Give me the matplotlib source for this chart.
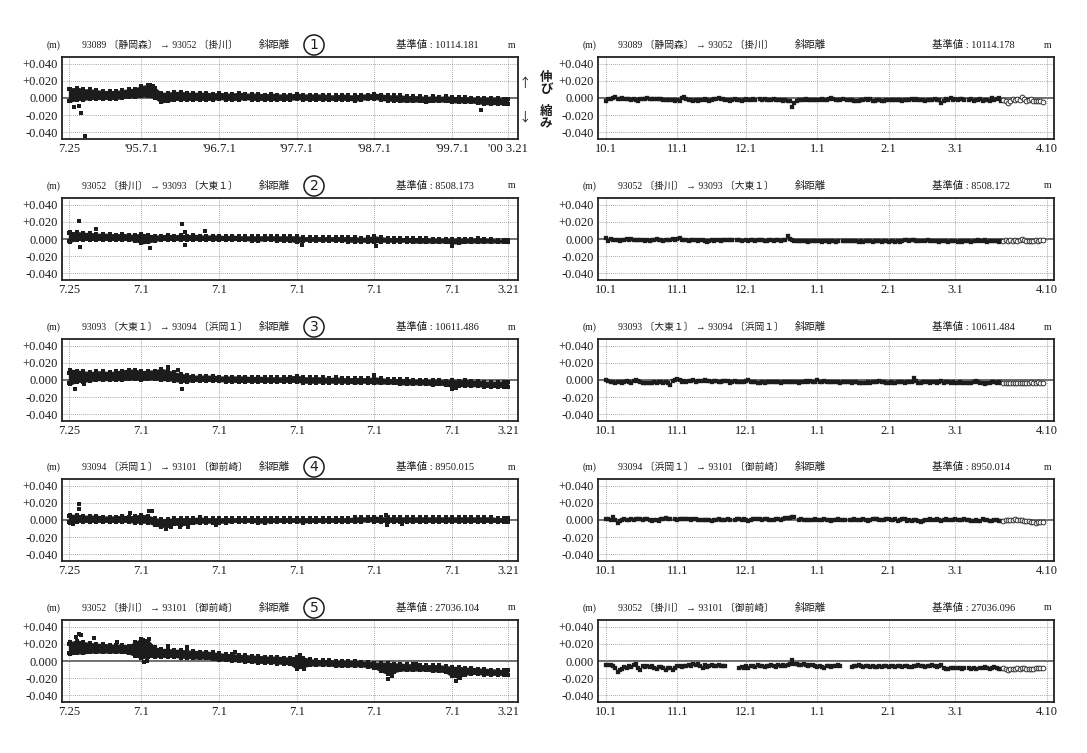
import numpy as np
import pandas as pd
import matplotlib
matplotlib.use('Agg')
import matplotlib.pyplot as plt

plt.rcParams['font.family'] = ['Liberation Serif', 'Noto Sans CJK JP', 'DejaVu Sans']

W, H = 1087, 753

# ---------------- data (mm, relative to the 基準値) ----------------
# long-term panels: monthly upper / lower edges of the dense band
# nodes: 1994-07-25, 1994-08 ... 2000-03 (month starts), 2000-03-21
L1_HI = [10,
         11, 12, 10, 10, 9,
         8, 8, 8, 9, 10, 11, 14, 15, 12, 6, 6, 7,
         7, 6, 6, 6, 6, 5, 6, 5, 5, 6, 5, 5,
         5, 4, 5, 4, 4, 4, 5, 4, 4, 4, 4, 3,
         3, 4, 3, 3, 4, 4, 5, 4, 3, 3, 3, 2,
         2, 2, 1, 2, 1, 2, 1, 1, 1, 0, 0, 0,
         0, 0, -1,
         -1]
L1_LO = [-3,
         -4, -2, -2, -1, -1,
         -1, -1, -1, 0, 1, 1, 2, 2, 0, -5, -4, -2,
         -2, -2, -2, -2, -2, -2, -1, -2, -2, -2, -1, -2,
         -2, -2, -2, -2, -2, -2, -1, -2, -2, -2, -2, -2,
         -2, -2, -2, -3, -2, -1, -1, -2, -3, -3, -4, -4,
         -4, -4, -5, -4, -4, -4, -5, -5, -5, -5, -6, -7,
         -7, -7, -7,
         -7]
L1_OUT_D = ['1994-08-18', '1994-09-10', '1994-09-18', '1994-10-08', '1995-08-10', '1995-08-25', '1999-11-14']
L1_OUT_V = [-10, -9, -18, -44, 15, 14, -14]

L2_HI = [7,
         8, 8, 7, 7, 6,
         6, 6, 5, 6, 5, 5, 6, 5, 4, 4, 5, 4,
         5, 4, 5, 4, 4, 4, 4, 3, 4, 3, 3, 3,
         3, 3, 3, 3, 3, 3, 3, 2, 2, 2, 2, 2,
         2, 2, 2, 2, 1, 2, 3, 2, 1, 1, 1, 1,
         1, 1, 1, 0, 0, 0, 0, 0, 0, 0, 1, 0,
         0, -1, -1,
         -1]
L2_LO = [-2,
         -3, -1, -1, -1, -1,
         -1, -1, -1, -1, -1, -2, -5, -4, -2, -1, -1, -1,
         -1, -1, -1, -1, -1, -1, -1, -1, -1, -1, -1, -2,
         -2, -1, -1, -2, -2, -2, -4, -2, -2, -2, -2, -2,
         -2, -2, -3, -3, -3, -3, -4, -3, -3, -3, -3, -3,
         -4, -4, -4, -4, -4, -4, -5, -5, -4, -4, -4, -4,
         -4, -4, -4,
         -4]
L2_OUT_D = ['1994-09-11', '1994-09-14', '1994-11-30', '1995-08-12', '1996-01-07', '1996-01-20',
            '1996-01-22', '1996-04-23', '1997-07-26', '1998-07-09', '1999-07-01']
L2_OUT_V = [21, -9, 12, -10, 17, 8, -7, 9, -7, -8, -8]

L3_HI = [8,
         12, 11, 10, 9, 10,
         10, 9, 10, 11, 12, 12, 10, 11, 11, 13, 11, 9,
         7, 6, 5, 5, 5, 5, 4, 4, 4, 4, 4, 3,
         4, 3, 3, 3, 3, 4, 5, 3, 3, 3, 3, 2,
         3, 2, 2, 2, 2, 2, 3, 2, 1, 1, 1, 1,
         0, 0, 0, 0, 0, -1, 0, -1, 0, -1, -1, -2,
         -2, -2, -2,
         -2]
L3_LO = [-3,
         -5, -2, -2, -1, 0,
         0, 0, 0, 0, 1, 1, 0, 1, 1, 0, 0, -1,
         -2, -2, -1, -1, -1, -1, -1, -2, -2, -2, -2, -2,
         -2, -2, -2, -2, -2, -2, -2, -3, -3, -3, -3, -3,
         -3, -3, -3, -4, -3, -3, -4, -4, -4, -4, -5, -5,
         -5, -5, -5, -6, -5, -6, -8, -7, -7, -7, -7, -8,
         -8, -8, -8,
         -8]
L3_OUT_D = ['1994-08-20', '1994-10-03', '1995-11-02', '1995-12-20', '1996-01-08', '1998-07-01',
            '1999-07-01', '1999-07-20']
L3_OUT_V = [-10, -5, 15, 12, -11, 6, -10, -9]

L4_HI = [5,
         6, 6, 5, 5, 5,
         4, 4, 4, 5, 4, 5, 6, 5, 2, 1, 1, 2,
         2, 2, 2, 3, 2, 2, 2, 2, 2, 2, 2, 2,
         2, 2, 2, 2, 2, 2, 2, 2, 2, 2, 2, 2,
         2, 2, 2, 3, 3, 3, 4, 3, 3, 3, 3, 3,
         3, 3, 3, 3, 3, 3, 3, 3, 3, 3, 3, 3,
         3, 2, 2,
         2]
L4_LO = [-2,
         -3, -2, -2, -2, -2,
         -2, -2, -2, -2, -2, -3, -3, -3, -6, -8, -7, -5,
         -6, -5, -4, -3, -3, -3, -3, -3, -2, -2, -2, -2,
         -3, -3, -2, -2, -2, -2, -2, -3, -2, -2, -2, -2,
         -2, -2, -2, -2, -2, -1, -2, -2, -2, -2, -2, -2,
         -2, -2, -2, -2, -2, -2, -2, -2, -2, -2, -2, -2,
         -2, -2, -2,
         -2]
L4_OUT_D = ['1994-08-15', '1994-09-08', '1994-09-10', '1995-05-10', '1995-08-05', '1995-08-19',
            '1995-10-23', '1995-11-17', '1995-12-28', '1996-02-07', '1996-06-15', '1998-08-27',
            '1998-08-30', '1998-11-10']
L4_OUT_V = [-5, 19, 13, 8, 10, 11, -10, -8, -8, -8, -6, 6, -6, -5]

L5_HI = [20,
         22, 24, 22, 21, 20,
         20, 19, 19, 19, 18, 22, 26, 24, 16, 14, 14, 13,
         13, 12, 12, 11, 11, 10, 9, 8, 8, 7, 7, 6,
         6, 5, 5, 5, 4, 4, 5, 4, 2, 1, 1, 1,
         0, 0, 0, 0, -1, -1, -2, -2, -2, -3, -3, -4,
         -4, -5, -5, -5, -5, -6, -7, -7, -8, -8, -9, -9,
         -10, -10, -11,
         -11]
L5_LO = [9,
         8, 9, 9, 10, 10,
         10, 10, 10, 10, 9, 6, 3, 5, 5, 5, 5, 5,
         4, 4, 3, 3, 3, 2, 1, 1, 0, 0, -1, -1,
         -2, -2, -2, -3, -3, -4, -9, -7, -5, -5, -5, -5,
         -6, -6, -6, -6, -6, -7, -8, -12, -15, -13, -11, -11,
         -11, -11, -11, -12, -12, -13, -18, -19, -16, -15, -15, -16,
         -16, -16, -16,
         -16]
L5_OUT_D = ['1994-08-25', '1994-09-10', '1994-09-20', '1994-11-20', '1995-03-10', '1995-07-10',
            '1995-07-22', '1995-08-05', '1995-07-15', '1995-07-28', '1995-11-01', '1996-02-01',
            '1996-09-15', '1997-07-15', '1997-08-05', '1998-09-05', '1998-09-20', '1999-01-15',
            '1999-07-20', '1999-08-10', '1999-12-10']
L5_OUT_V = [28, 32, 30, 27, 22, 25, 24, 26, -1, 0, 18, 16, 11, 7, -9, -21, -18, -4, -23, -20, -13]

# recent panels: daily values from 1999-10-01 (final), then quick solutions from 2000-03-22
nan = np.nan
R1_DAY = [-4, -1, -1, 0, 1, -1, -1, 0, -1, -1, -1, -2, -1, -2, -3, -1, -1, -1, 0, -1, -1, -1, -1, -1, -1, -2, -2, -2, -2, -2, -3,
          -2, -3, 0, 1, -1, -2, -2, -3, -2, -3, -2, -2, -1, -2, -3, -2, -1, -1, 0, -1, -1, -2, -2, -3, -2, -1, -2, -2, -3, -2,
          -1, -2, -2, -1, -2, nan, -1, -2, -1, -2, -2, -2, -1, -2, -2, -2, -3, -2, -3, -4, -11, -6, -3, -2, -2, -2, -1, -2, -2, -2, -2,
          -2, -2, -1, -2, -2, -1, 0, -1, -2, -2, -2, -1, nan, -2, -2, -2, -3, -3, -4, -2, -2, -1, -2, -1, -3, -3, -2, -2, -4, -3, -2,
          -2, -2, -2, -2, -2, -2, -3, -2, -2, -2, -1, -2, -1, -2, -2, -2, -3, -2, -2, -2, -1, -2, -2, -6, -3, -1, -2, 0, -2,
          -1, -2, -1, -1, -2, nan, -2, -1, -3, -2, -2, -1, -3, -2, -2, -3, 0, -2, -1, 0, -3]
R1_QUICK = [-2, -4, -6, -3, -1, -2, -1, -2, 1, -1, -3, -2, -1, -3, -4, -3, -4, -5]

R2_DAY = [1, -2, 0, -1, -1, -1, -2, -1, -1, 0, -1, 0, -1, -1, -1, -1, -1, -2, -1, -2, -1, -1, 0, -1, -1, -2, -1, -1, -1, 0, -1,
          0, 1, -1, -1, -1, -2, -1, -1, -1, -2, -1, -1, -2, -4, -2, -1, -2, -1, -1, -2, -1, -1, -1, -1, -1, nan, -1, -1, -2, nan,
          -1, -2, -1, -1, -2, -1, -1, -1, -2, -2, -1, -1, -2, -1, -1, -2, -1, -1, 3, 0, -1, -2, -2, -2, -2, -2, -2, -3, -2, -2, -2,
          -2, -2, -3, -2, -2, -3, -2, -2, -3, -2, nan, -2, -2, -2, -2, -2, -2, -2, -3, -2, -3, -2, -2, -2, -3, -2, -2, -2, -3, -2, -2,
          -3, -2, -2, -3, -2, -4, -2, -1, -1, -2, -1, -1, -2, -2, -2, nan, -2, -1, -2, -2, -2, -2, -3, -2, -2, -2, -3, -2, -2,
          -2, -3, -2, -3, -2, -2, -2, -3, -2, -2, -1, -2, -2, -1, -3, -2, -2, -2, -2, -3, -2]
R2_QUICK = [-2, -1, -2, -1, -2, -1, -2, -1, 0, -1, -2, -2, -2, -2, -1, -2, -1, -1]

R3_DAY = [0, -1, -2, -2, -3, -2, -2, -3, -2, -1, -2, -3, -1, 0, -1, -2, -3, -3, -4, -4, -4, -2, -3, -2, -2, -3, -2, -3, -6, -1, 0,
          1, 0, -2, -1, -2, -1, -1, 0, -2, -1, -1, -1, 0, -1, -1, -2, -1, -1, -2, -2, -1, -1, -1, -3, -2, -1, -2, -2, -2, -2,
          -1, 0, -2, -2, -2, -3, -3, -2, -3, -2, -2, -2, -2, -2, -2, -3, -2, -2, -2, -2, -2, -2, -2, -3, -2, -2, -1, -2, -1, -2, -2,
          0, -2, -2, -1, -2, -2, -2, -2, -2, -2, -3, -2, -2, -2, -2, -3, -2, -2, -3, -3, -3, -4, -2, -3, -2, -2, -2, -1, -2, -2, -3,
          -3, -2, -3, -3, -2, -2, -2, -3, -2, -2, -2, 2, -1, -3, -3, -2, -2, -2, -3, -2, -2, -3, -2, -1, -3, -2, -2, -3, -2,
          -3, -3, -2, -3, -3, -4, -4, -3, -2, -1, -2, -3, -4, -5, -3, -3, -2, -2, -3, -2, -3]
R3_QUICK = [-3, -4, -4, -3, -3, -4, -3, -3, -3, -4, -3, -3, -2, -3, -3, -2, -3, -3]

R4_DAY = [1, 1, 0, 3, 0, -3, -1, 0, 1, 0, 0, 1, 0, 1, 1, 1, 0, 1, 1, 0, -1, 0, 0, -1, 1, 1, 2, 1, 1, nan, 1,
          0, 1, 1, 1, 1, 1, 0, 1, 1, 0, 0, 0, 0, 0, 0, -1, 0, 0, 1, 0, 0, 0, 1, 0, nan, 0, 1, 1, 0, 1,
          0, -1, 0, 1, 1, 1, 1, 0, 1, 1, 0, 0, 0, 1, 1, 0, 1, 2, 2, 2, 3, 3, nan, 0, 1, 0, 0, 0, 0, 0, 1,
          0, 0, 0, 1, 0, 0, -1, 0, 0, 1, 0, 0, 0, nan, 0, 0, 1, 0, 0, 0, 1, 0, -1, 0, 1, 1, 1, 0, 0, 0, 1,
          1, 0, 0, 1, -1, 0, 1, 1, -1, 0, -1, 0, 0, -1, -2, -1, 0, 0, 1, 0, 0, 1, 0, -1, 0, 1, 0, 0, 0,
          1, 0, 0, 0, 1, 0, 0, -1, -1, 0, -1, -1, 1, 0, 0, -1, -1, 0, 0, -1, -1]
R4_QUICK = [-1, 0, 0, 0, 0, 1, 0, 0, 0, -1, -1, -1, -2, -2, -3, -2, -2, -2]

R5_DAY = [-5, -5, -5, -6, -8, -13, -11, -9, -7, -8, -6, -7, -5, -3, -8, -11, -6, -7, -6, -7, -6, -8, -9, -7, -7, -8, -10, -8, -8, -11, -8,
          -6, -6, -7, -6, -6, -5, -6, -4, -5, -4, -6, -8, -5, -7, -6, -5, -6, -6, -5, -6, -6, -6, nan, nan, nan, nan, nan, -8, -7, -8,
          -6, -8, -6, -6, -7, -5, -6, -6, -7, -6, -6, -5, -6, -7, -5, -6, -5, -6, -5, -3, 1, -3, -4, -5, -5, -4, -5, -6, -5, -5, -6,
          -7, -6, -7, -8, -6, -6, -7, -6, -6, -5, -6, nan, nan, nan, nan, -7, -6, -6, -5, -6, -7, -6, -6, -7, -6, -7, -7, -6, -7, -6, -6,
          -7, -6, -6, -7, -6, -6, -7, -6, -6, -7, -7, -6, -6, -5, -6, -6, -7, -6, -6, -5, -6, -7, -6, -5, -8, -9, -9, -8, -8,
          -8, -8, -8, -9, -8, nan, -8, -9, -8, -9, nan, -8, -8, -7, -8, -9, -8, -7, -8, -9, -9]
R5_QUICK = [-8, -9, -10, -9, -9, -9, -8, -9, -8, -8, -9, -9, -9, -9, -8, -8, -8, -8]

STATIONS = ['93089 〔静岡森〕 → 93052 〔掛川〕',
            '93052 〔掛川〕 → 93093 〔大東１〕',
            '93093 〔大東１〕 → 93094 〔浜岡１〕',
            '93094 〔浜岡１〕 → 93101 〔御前崎〕',
            '93052 〔掛川〕 → 93101 〔御前崎〕']
BASE_LONG = ['10114.181', '8508.173', '10611.486', '8950.015', '27036.104']
BASE_RECENT = ['10114.178', '8508.172', '10611.484', '8950.014', '27036.096']

Y_TICKS = [0.04, 0.02, 0.0, -0.02, -0.04]
Y_LABELS = ['+0.040', '+0.020', '0.000', '-0.020', '-0.040']
LONG_TICKS = ['1994-07-25', '1995-07-01', '1996-07-01', '1997-07-01', '1998-07-01', '1999-07-01', '2000-03-21']
LONG_LABELS_TOP = ['7.25', "'95.7.1", "'96.7.1", "'97.7.1", "'98.7.1", "'99.7.1", "'00 3.21"]
LONG_LABELS = ['7.25', '7.1', '7.1', '7.1', '7.1', '7.1', '3.21']
RECENT_TICKS = ['1999-10-01', '1999-11-01', '1999-12-01', '2000-01-01', '2000-02-01', '2000-03-01', '2000-04-10']
RECENT_LABELS = ['10.1', '11.1', '12.1', '1.1', '2.1', '3.1', '4.10']

long_hi = [L1_HI, L2_HI, L3_HI, L4_HI, L5_HI]
long_lo = [L1_LO, L2_LO, L3_LO, L4_LO, L5_LO]
long_out_d = [L1_OUT_D, L2_OUT_D, L3_OUT_D, L4_OUT_D, L5_OUT_D]
long_out_v = [L1_OUT_V, L2_OUT_V, L3_OUT_V, L4_OUT_V, L5_OUT_V]
recent_day = [R1_DAY, R2_DAY, R3_DAY, R4_DAY, R5_DAY]
recent_quick = [R1_QUICK, R2_QUICK, R3_QUICK, R4_QUICK, R5_QUICK]

# ---------------- layout (pixels of the 1087x753 page) ----------------
ROW_ZERO = [98, 239, 380, 520, 661]
HALF = 41
LEFT_X = (62, 518)
RIGHT_X = (598, 1054)
INK = '#1c1c1c'

fig = plt.figure(figsize=(W / 100, H / 100), dpi=100)


def rect(x0, x1, cy):
    return [x0 / W, 1 - (cy + HALF) / H, (x1 - x0) / W, 2 * HALF / H]


def ptxt(x, y, s, **kw):
    kw.setdefault('fontsize', 7.5)
    kw.setdefault('va', 'center')
    kw.setdefault('color', INK)
    return fig.text(x / W, 1 - y / H, s, **kw)


def style_axes(ax, ticks, labels, xlim):
    ax.set_ylim(-0.048, 0.048)
    ax.set_yticks(Y_TICKS)
    ax.set_yticklabels(Y_LABELS)
    ax.set_xticks(pd.to_datetime(ticks))
    ax.set_xticklabels(labels)
    ax.set_xlim(pd.Timestamp(xlim[0]), pd.Timestamp(xlim[1]))
    ax.tick_params(length=0, pad=3, labelsize=9, colors=INK)
    ax.grid(True, ls=(0, (1, 1.5)), lw=0.6, color='#8a8a8a')
    ax.axhline(0, color='#444444', lw=1.1, zorder=1.5)
    for sp in ax.spines.values():
        sp.set_linewidth(1.3)
        sp.set_color('#222222')


def header(bx, cy, base, station, num=None):
    ty = cy - 53
    ptxt(bx - 8, ty, '(m)', ha='center', fontsize=7)
    ptxt(bx + 20, ty, station, ha='left', fontsize=7)
    ptxt(bx + 197, ty, '斜距離', ha='left', fontsize=7.5)
    ptxt(bx + 334, ty, '基準値 : ' + base, ha='left', fontsize=7.5)
    ptxt(bx + 450, ty, 'm', ha='center', fontsize=7)
    if num is not None:
        ptxt(bx + 252, ty, str(num), ha='center', fontsize=10, family=['DejaVu Sans'],
             bbox=dict(boxstyle='circle,pad=0.22', fc='white', ec=INK, lw=1.1))


for i in range(5):
    cy = ROW_ZERO[i]

    # long-term panel
    ax = fig.add_axes(rect(*LEFT_X, cy))
    hi = np.array(long_hi[i]) / 1000
    lo = np.array(long_lo[i]) / 1000
    mid = pd.date_range('1994-08-01', periods=len(hi) - 2, freq='MS')
    nodes = pd.DatetimeIndex([pd.Timestamp('1994-07-25')]).append(mid).append(
        pd.DatetimeIndex([pd.Timestamp('2000-03-21')]))
    ax.fill_between(nodes, lo, hi, color=INK, lw=1.0, ec=INK, zorder=3)
    ax.plot(nodes, hi, 's', ms=2.6, mew=0, color=INK, zorder=3)
    ax.plot(nodes, lo, 's', ms=2.6, mew=0, color=INK, zorder=3)
    ax.plot(pd.to_datetime(long_out_d[i]), np.array(long_out_v[i]) / 1000, 's', ms=2.4,
            mew=0, color=INK, zorder=3)
    style_axes(ax, LONG_TICKS, LONG_LABELS_TOP if i == 0 else LONG_LABELS,
               ('1994-06-22', '2000-05-07'))
    header(LEFT_X[0], cy, BASE_LONG[i], STATIONS[i], num=i + 1)

    # recent panel
    ax = fig.add_axes(rect(*RIGHT_X, cy))
    day = np.array(recent_day[i], dtype=float) / 1000
    quick = np.array(recent_quick[i], dtype=float) / 1000
    ax.plot(pd.date_range('1999-10-01', periods=len(day)), day, 's', ms=2.3, mew=0.2,
            color=INK, zorder=3)
    ax.plot(pd.date_range('2000-03-22', periods=len(quick)), quick, 'o', ms=3.4,
            mfc='white', mec='#333333', mew=0.7, zorder=3)
    style_axes(ax, RECENT_TICKS, RECENT_LABELS, ('1999-09-27 12:00', '2000-04-13'))
    header(RIGHT_X[0], cy, BASE_RECENT[i], STATIONS[i])

# 伸び / 縮み marks between the two top panels
cjk = ['Noto Sans CJK JP', 'DejaVu Sans']
ptxt(525, 84, '↑', ha='center', fontsize=9, family=cjk)
ptxt(546, 77, '伸', ha='center', fontsize=9, family=cjk, weight='bold')
ptxt(546, 90, 'び', ha='center', fontsize=9, family=cjk, weight='bold')
ptxt(525, 117, '↓', ha='center', fontsize=9, family=cjk)
ptxt(546, 111, '縮', ha='center', fontsize=9, family=cjk, weight='bold')
ptxt(546, 124, 'み', ha='center', fontsize=9, family=cjk, weight='bold')

fig.savefig('out.png', dpi=100, facecolor='white')
